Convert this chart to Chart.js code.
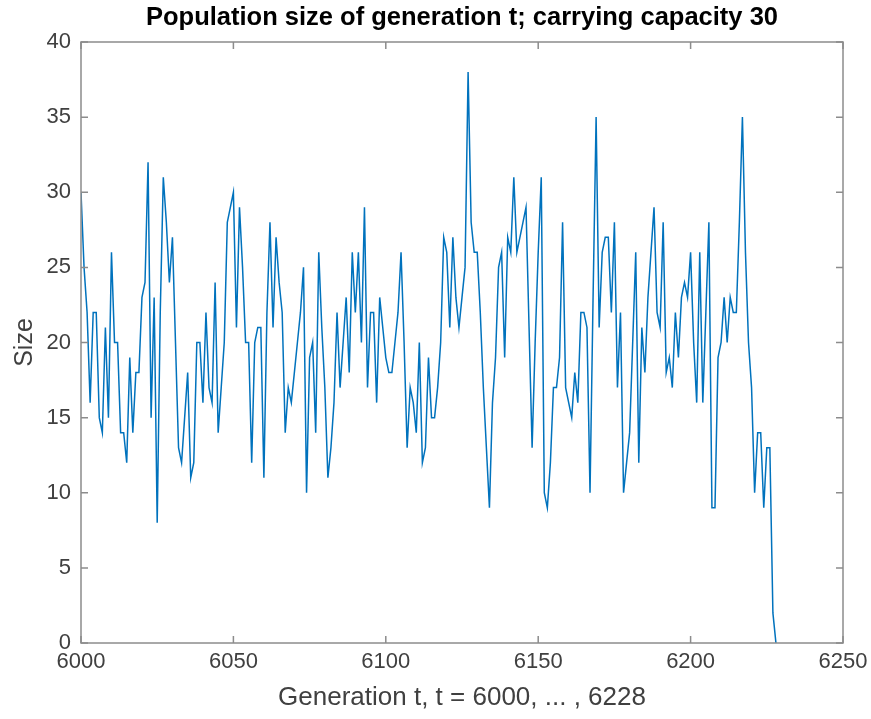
<!DOCTYPE html>
<html>
<head>
<meta charset="utf-8">
<script src="https://cdn.jsdelivr.net/npm/chart.js@4.4.1/dist/chart.umd.min.js"></script>
<style>
  html, body { margin: 0; padding: 0; background: #fff; }
  #popChart { display: block; }
</style>
</head>
<body>
<canvas id="popChart" width="871" height="719"></canvas>
<script>
// population size per generation (t = 6000 ... 6228)
let firstGeneration = 6000;
let sizes = [
  30, 25, 22, 16, 22, 22, 15, 14, 21, 15,
  26, 20, 20, 14, 14, 12, 19, 14, 18, 18,
  23, 24, 32, 15, 23, 8, 22, 31, 28, 24,
  27, 20, 13, 12, 15, 18, 11, 12, 20, 20,
  16, 22, 17, 16, 24, 14, 17, 20, 28, 29,
  30, 21, 29, 25, 20, 20, 12, 20, 21, 21,
  11, 22, 28, 21, 27, 24, 22, 14, 17, 16,
  18, 20, 22, 25, 10, 19, 20, 14, 26, 21,
  17, 11, 13, 16, 22, 17, 20, 23, 18, 26,
  22, 26, 20, 29, 17, 22, 22, 16, 23, 21,
  19, 18, 18, 20, 22, 26, 20, 13, 17, 16,
  14, 20, 12, 13, 19, 15, 15, 17, 20, 27,
  26, 21, 27, 23, 21, 23, 25, 38, 28, 26,
  26, 22, 17, 13, 9, 16, 19, 25, 26, 19,
  27, 26, 31, 26, 27, 28, 29, 21, 13, 20,
  26, 31, 10, 9, 12, 17, 17, 19, 28, 17,
  16, 15, 18, 16, 22, 22, 21, 10, 23, 35,
  21, 26, 27, 27, 22, 28, 17, 22, 10, 12,
  14, 20, 26, 12, 21, 18, 23, 26, 29, 22,
  21, 28, 18, 19, 17, 22, 19, 23, 24, 23,
  26, 20, 16, 26, 16, 22, 28, 9, 9, 19,
  20, 23, 20, 23, 22, 22, 28, 35, 26, 20,
  17, 10, 14, 14, 9, 13, 13, 2, 0
];
let generations = sizes.map((s, i) => firstGeneration + i);

let xTicks = [6000, 6050, 6100, 6150, 6200, 6250];
let yTicks = [0, 5, 10, 15, 20, 25, 30, 35, 40];

let titleText = "Population size of generation t; carrying capacity 30";
let xLabel = "Generation t, t = 6000, ... , 6228";
let yLabel = "Size";

let fontFamily = "'Liberation Sans', Arial, Helvetica, sans-serif";
let axisColor = "#8c8c8c";
let textColor = "#404040";

// matlab style box with ticks pointing inwards
let matlabBox = {
  id: "matlabBox",
  afterDatasetsDraw(chart) {
    let { ctx, chartArea: a, scales } = chart;
    let tickLen = 7;
    ctx.save();
    ctx.strokeStyle = axisColor;
    ctx.lineWidth = 1.5;
    ctx.strokeRect(a.left, a.top, a.right - a.left, a.bottom - a.top);
    ctx.beginPath();
    scales.x.ticks.forEach((t) => {
      let px = scales.x.getPixelForValue(t.value);
      ctx.moveTo(px, a.bottom);
      ctx.lineTo(px, a.bottom - tickLen);
      ctx.moveTo(px, a.top);
      ctx.lineTo(px, a.top + tickLen);
    });
    scales.y.ticks.forEach((t) => {
      let py = scales.y.getPixelForValue(t.value);
      ctx.moveTo(a.left, py);
      ctx.lineTo(a.left + tickLen, py);
      ctx.moveTo(a.right, py);
      ctx.lineTo(a.right - tickLen, py);
    });
    ctx.stroke();
    ctx.restore();
  },
};

// centre the title over the axes box, like matlab does
let centerTitle = {
  id: "centerTitle",
  afterLayout(chart) {
    let t = chart.titleBlock;
    if (t) {
      t.left = chart.chartArea.left;
      t.right = chart.chartArea.right;
      t.width = t.right - t.left;
    }
  },
};

function getChart(xArray, yArray) {
  let ctx = document.getElementById("popChart").getContext("2d");
  return new Chart(ctx, {
    type: "line",
    data: {
      datasets: [
        {
          data: xArray.map((g, i) => ({ x: g, y: yArray[i] })),
          borderColor: "#0072bd",
          borderWidth: 1.5,
          pointRadius: 0,
          tension: 0,
          fill: false,
        },
      ],
    },
    options: {
      responsive: false,
      animation: false,
      devicePixelRatio: 1,
      layout: { padding: { left: 0, right: 28, top: 0, bottom: 0 } },
      plugins: {
        legend: { display: false },
        tooltip: { enabled: false },
        title: {
          display: true,
          text: titleText,
          color: "#000",
          font: { family: fontFamily, size: 25.5, weight: "bold", lineHeight: 1.2 },
          padding: { top: 3, bottom: 8.4 },
        },
      },
      scales: {
        x: {
          type: "linear",
          min: 6000,
          max: 6250,
          afterBuildTicks: (scale) => {
            scale.ticks = xTicks.map((v) => ({ value: v }));
          },
          afterFit: (scale) => {
            scale.height = 76;
            scale.paddingLeft = 0;
            scale.paddingRight = 0;
          },
          grid: { display: false, drawTicks: false },
          border: { display: false },
          ticks: {
            color: textColor,
            font: { family: fontFamily, size: 22 },
            padding: 6,
            maxRotation: 0,
            autoSkip: false,
            callback: (value) => String(value),
          },
          title: {
            display: true,
            text: xLabel,
            color: textColor,
            font: { family: fontFamily, size: 26, lineHeight: 1.2 },
            padding: { top: 0, bottom: 6 },
          },
        },
        y: {
          type: "linear",
          min: 0,
          max: 40,
          afterBuildTicks: (scale) => {
            scale.ticks = yTicks.map((v) => ({ value: v }));
          },
          afterFit: (scale) => {
            scale.width = 81;
          },
          grid: { display: false, drawTicks: false },
          border: { display: false },
          ticks: {
            color: textColor,
            font: { family: fontFamily, size: 22 },
            padding: 10,
          },
          title: {
            display: true,
            text: yLabel,
            color: textColor,
            font: { family: fontFamily, size: 25, lineHeight: 1.2 },
            padding: { top: 10, bottom: 0 },
          },
        },
      },
    },
    plugins: [matlabBox, centerTitle],
  });
}

getChart(generations, sizes);
</script>
</body>
</html>
